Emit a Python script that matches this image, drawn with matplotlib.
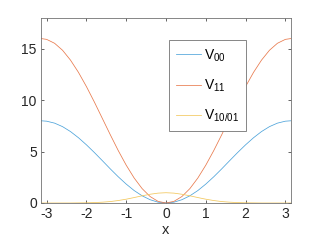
import matplotlib
matplotlib.use("Agg")
import matplotlib.pyplot as plt

plt.rcParams['font.family'] = ['Liberation Sans', 'DejaVu Sans']
plt.rcParams['mathtext.default'] = 'regular'

# values (x from -pi to pi)
x = [-3.14, -3.0, -2.8, -2.6, -2.4, -2.2, -2.0, -1.8, -1.6, -1.4, -1.2, -1.0,
     -0.8, -0.6, -0.4, -0.2, 0.0, 0.2, 0.4, 0.6, 0.8, 1.0, 1.2, 1.4, 1.6, 1.8,
     2.0, 2.2, 2.4, 2.6, 2.8, 3.0, 3.14]
half = [8.00, 7.96, 7.77, 7.43, 6.95, 6.35, 5.66, 4.91, 4.12, 3.32, 2.55, 1.84,
        1.21, 0.70, 0.32, 0.08, 0.00]
v00 = half + half[-2::-1]
half = [16.00, 15.92, 15.54, 14.86, 13.90, 12.71, 11.33, 9.82, 8.23, 6.64, 5.10,
        3.68, 2.43, 1.40, 0.63, 0.16, 0.00]
v11 = half + half[-2::-1]
half = [0.00, 0.00, 0.00, 0.00, 0.00, 0.01, 0.02, 0.04, 0.08, 0.14, 0.24, 0.37,
        0.53, 0.70, 0.85, 0.96, 1.00]
v1001 = half + half[-2::-1]

fig = plt.figure(figsize=(3.21, 2.41), dpi=100)
ax = fig.add_axes([41 / 321, 1 - 203 / 241, 250 / 321, 185 / 241])

ax.plot(x, v00, color='#4DA3DA', lw=0.55, label='V$_{00}$')
ax.plot(x, v11, color='#E8794C', lw=0.55, label='V$_{11}$')
ax.plot(x, v1001, color='#F2C75C', lw=0.55, label='V$_{10/01}$')

ax.set_xlim(-3.1416, 3.1416)
ax.set_ylim(0, 18)
ax.set_xticks([-3, -2, -1, 0, 1, 2, 3])
ax.set_xticklabels(['-3', '-2', '-1', '0', '1', '2', '3'])
ax.set_yticks([0, 5, 10, 15])
ax.tick_params(direction='in', top=True, right=True, length=2.5, width=0.5,
               labelsize=10, colors='0.15', pad=3)
for s in ax.spines.values():
    s.set_linewidth(0.6)
    s.set_color('0.45')
ax.set_xlabel('x', fontsize=10.5, color='0.15', labelpad=1)

leg = ax.legend(loc='upper left', bbox_to_anchor=(0.512, 0.88), fontsize=10,
                fancybox=False, framealpha=1, edgecolor='0.45',
                labelspacing=1.0, handlelength=1.8, handletextpad=0.2,
                borderpad=0.5, borderaxespad=0)
leg.get_frame().set_linewidth(0.6)

fig.savefig('out.png', dpi=100)
